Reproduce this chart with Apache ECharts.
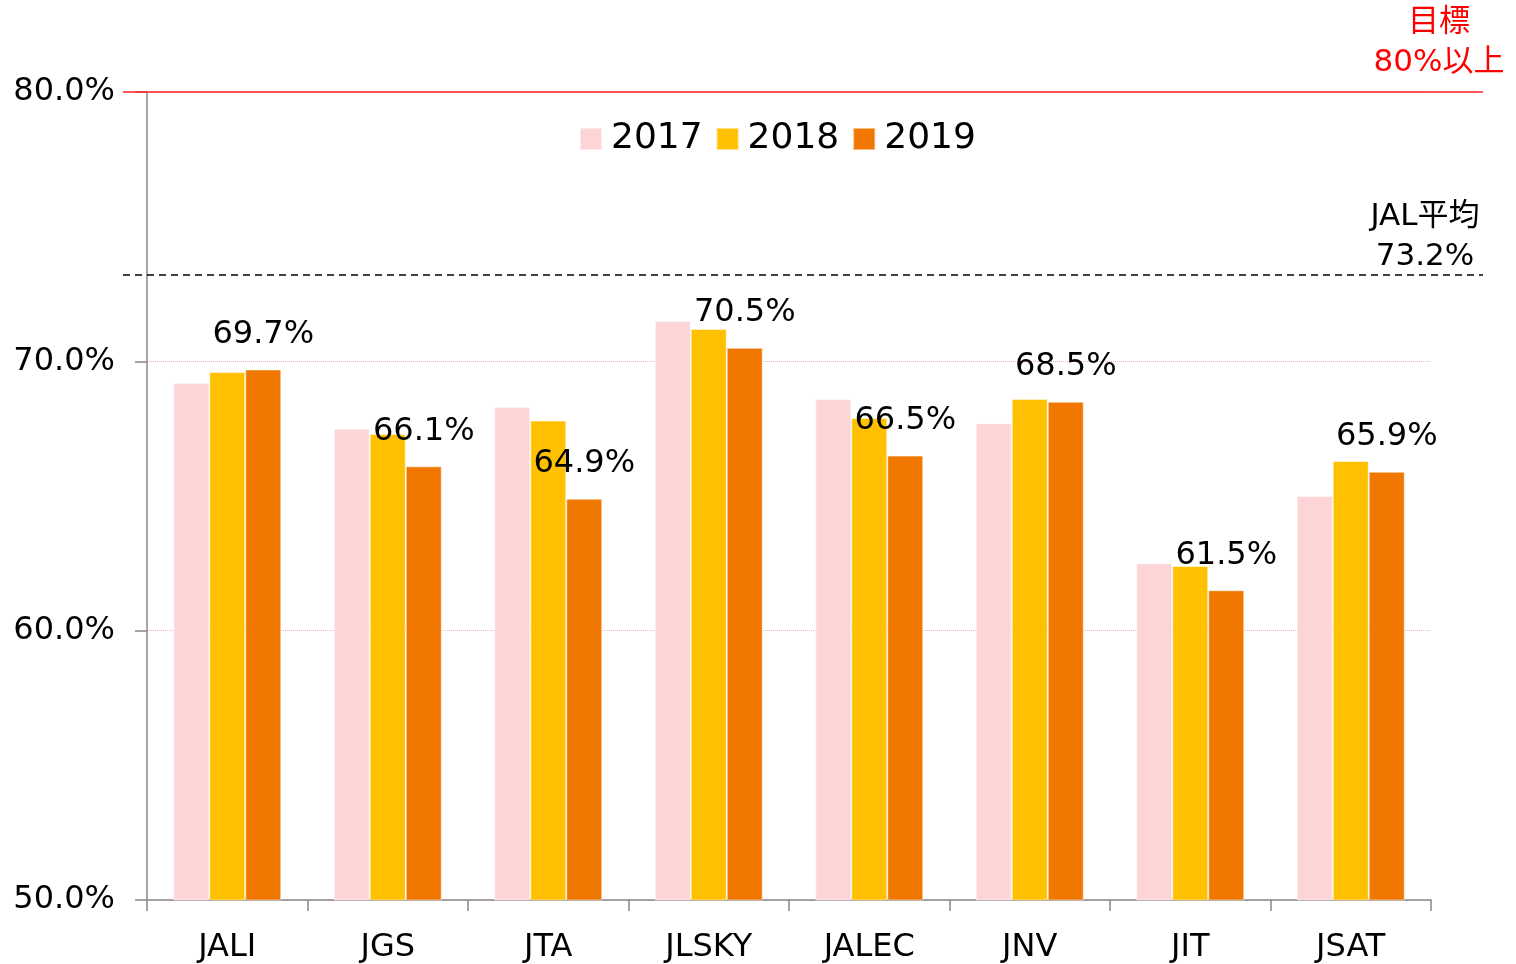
<!DOCTYPE html>
<html>
<head>
<meta charset="utf-8">
<script src="https://cdn.jsdelivr.net/npm/echarts@6/dist/echarts.min.js"></script>
<style>
  html, body { margin: 0; padding: 0; background: #fff; }
  #chart { width: 1516px; height: 964px; }
</style>
</head>
<body>
<div id="chart"></div>
<script>
const categories = ['JALI', 'JGS', 'JTA', 'JLSKY', 'JALEC', 'JNV', 'JIT', 'JSAT']
const years = ['2017', '2018', '2019']
const values2017 = [69.2, 67.5, 68.3, 71.5, 68.6, 67.7, 62.5, 65.0]
const values2018 = [69.6, 67.3, 67.8, 71.2, 67.9, 68.6, 62.4, 66.3]
const values2019 = [69.7, 66.1, 64.9, 70.5, 66.5, 68.5, 61.5, 65.9]
const targetValue = 80
const averageValue = 73.2
const colors = ['#FDD5D7', '#FFC000', '#F07800']

const font = '"DejaVu Sans", "Noto Sans CJK JP", sans-serif'
const chart = echarts.init(document.getElementById('chart'))

function barSeries(name, data, idx, showLabel) {
  return {
    name: name,
    type: 'bar',
    data: data,
    barWidth: 36,
    barGap: '0%',
    itemStyle: { color: colors[idx], borderColor: 'rgba(255,255,255,0.5)', borderWidth: 1 },
    label: {
      show: showLabel,
      position: 'top',
      distance: 19,
      color: '#000',
      fontFamily: font,
      fontSize: 32,
      formatter: p => p.value.toFixed(1) + '%'
    },
    animation: false
  }
}

chart.setOption({
  textStyle: { fontFamily: font },
  legend: {
    data: years,
    top: 116,
    left: 574,
    itemWidth: 22,
    itemHeight: 22,
    itemGap: 13,
    icon: 'rect',
    textStyle: { fontSize: 36, color: '#000', fontFamily: font, padding: [0, 0, 0, 4] }
  },
  title: [
    {
      text: '目標\n80%以上',
      left: 1434,
      top: -2,
      textAlign: 'center',
      textStyle: { color: '#FF0000', fontSize: 31, fontWeight: 'normal', lineHeight: 40, fontFamily: font }
    },
    {
      text: 'JAL平均\n73.2%',
      left: 1420,
      top: 192,
      textAlign: 'center',
      textStyle: { color: '#000', fontSize: 31, fontWeight: 'normal', lineHeight: 40, fontFamily: font }
    }
  ],
  grid: [
    { left: 147, right: 85, top: 92, bottom: 64 },
    { left: 123, right: 33, top: 92, bottom: 64 }
  ],
  xAxis: [
    {
      type: 'category',
      data: categories,
      gridIndex: 0,
      axisLine: { lineStyle: { color: '#888', width: 1.5 } },
      axisTick: { show: true, length: 11, lineStyle: { color: '#888', width: 1.5 } },
      axisLabel: { color: '#000', fontSize: 32, margin: 32, fontFamily: font }
    },
    {
      type: 'value',
      gridIndex: 1,
      min: 0,
      max: 1,
      show: false
    }
  ],
  yAxis: [
    {
      type: 'value',
      gridIndex: 0,
      min: 50,
      max: 80,
      interval: 10,
      axisLine: { show: true, lineStyle: { color: '#888', width: 1.5 } },
      axisTick: { show: true, length: 12, lineStyle: { color: '#888', width: 1.5 } },
      axisLabel: { color: '#000', fontSize: 32, margin: 32, fontFamily: font, padding: [7, 0, 0, 0], formatter: v => v.toFixed(1) + '%' },
      splitLine: { show: true, lineStyle: { color: '#F2B3C3', type: 'dotted', width: 1 } }
    },
    {
      type: 'value',
      gridIndex: 1,
      min: 50,
      max: 80,
      show: false
    }
  ],
  series: [
    barSeries(years[0], values2017, 0, false),
    barSeries(years[1], values2018, 1, false),
    barSeries(years[2], values2019, 2, true),
    {
      type: 'line',
      xAxisIndex: 1,
      yAxisIndex: 1,
      data: [],
      silent: true,
      animation: false,
      markLine: {
        symbol: 'none',
        silent: true,
        label: { show: false },
        data: [
          { yAxis: targetValue, lineStyle: { color: '#FF2020', type: 'solid', width: 1.5 } },
          { yAxis: averageValue, lineStyle: { color: '#000', type: [7, 5], width: 1.5 } }
        ]
      }
    }
  ]
})
</script>
</body>
</html>
